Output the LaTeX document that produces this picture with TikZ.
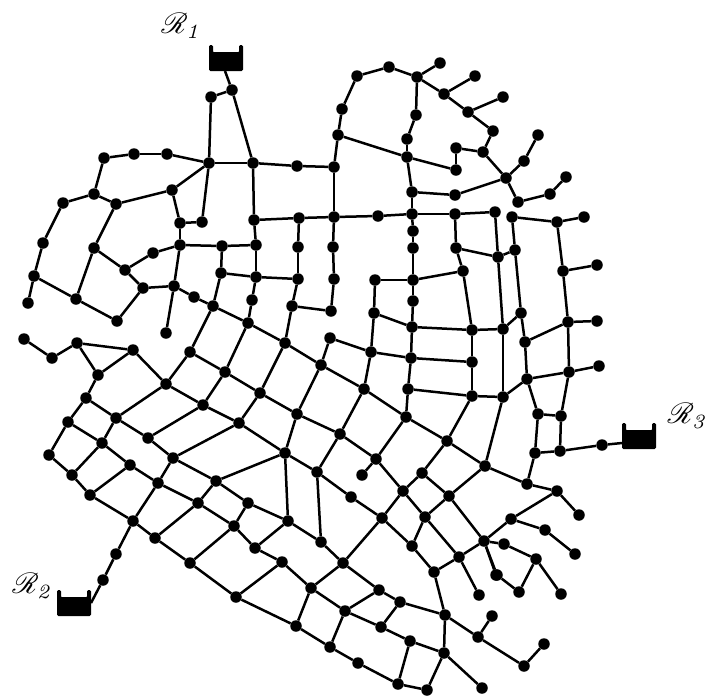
\documentclass[tikz,border=0pt]{standalone}
\usepackage{amsfonts}
\usepackage{mathrsfs}
\tikzset{
  dot/.style={circle,fill=black,inner sep=0pt,minimum size=11.5pt},
  pipe/.style={line width=2.5pt,black},
  tank/.style={fill=black,draw=black,line width=1pt,rounded corners=1pt},
  lab/.style={inner sep=0pt,scale=2.9,transform shape}
}
\begin{document}
\begin{tikzpicture}[x=1pt,y=-1pt]
\useasboundingbox (0,0) rectangle (708,697);
\foreach \n/\x/\y in {
A1/232/90,A2/211/97,A3/209/163,A4/253/163,A5/167/154,A6/134/154,A7/104/158,A8/94/194,A9/63/203,A10/116/204,A11/172/190,A12/180/223,A13/202/222,A14/254/220,
B1/43/243,B2/34/276,B3/28/303,B4/94/248,B5/76/299,B6/117/321,B7/125/270,B8/143/288,B9/153/253,B10/180/245,B11/174/286,B12/166/333,B13/194/297,B14/213/306,B15/222/246,B16/221/273,B17/256/245,B18/256/277,B19/252/300,B20/248/323,
C1/24/339,C2/52/358,C3/77/343,C4/133/350,C5/98/375,C6/86/398,C7/68/422,C8/49/455,C9/102/443,C10/116/418,C11/148/438,C12/166/384,C13/203/405,C14/190/352,C15/225/372,C16/239/423,C17/173/458,C18/260/393,
D3/72/475,D4/90/495,D5/130/465,D6/158/483,D8/133/521,D9/155/538,D10/198/503,D11/216/481,D12/248/503,D13/234/526,D14/255/548,D15/190/563,D16/236/597,D17/116/554,D18/103/580,
E1/285/453,E2/317/472,E3/351/497,E4/382/518,E5/403/491,E6/422/473,E7/449/496,E8/425/517,E9/484/541,E10/459/557,E11/412/546,E12/434/572,E13/479/595,E14/496/575,
E18/288/521,E19/321/542,E21/282/562,E22/343/563,E23/311/588,E25/296/626,E26/330/647,E27/358/663,E28/398/684,E29/427/690,E30/345/611,E31/379/590,E32/400/602,E33/381/627,E34/410/641,E35/444/653,E36/445/615,E37/478/637,E38/492/616,E39/482/688,
F2/298/279,F3/334/279,F5/292/306,F6/331/311,F8/285/343,F9/321/365,F10/330/338,F11/371/352,F12/364/389,F13/406/417,F14/411/358,F15/408/389,F16/412/327,F17/374/313,F18/375/280,F19/413/280,F20/413/301,F21/463/271,F22/472/330,F23/503/329,F24/472/362,F25/472/396,F26/503/397,F27/447/441,F28/485/466,F30/297/414,F31/340/434,F32/376/459,F36/362/475,
G2/297/166,G3/334/167,G4/338/135,G5/342/109,G6/357/76,G7/389/67,G8/417/77,G9/440/63,G10/444/94,G11/475/76,G12/468/112,G13/503/97,G14/493/131,G15/483/152,G16/456/148,G17/456/170,G18/416/115,G19/407/139,G20/407/157,G21/412/192,G22/455/195,G23/506/178,G24/412/214,G25/455/214,G26/495/212,G27/378/216,G28/334/217,G29/299/218,G32/298/247,G33/333/247,G34/413/231,G35/413/248,G36/456/248,G37/498/257,
H2/524/161,H3/538/135,H4/518/202,H5/550/194,H6/566/177,H7/512/217,H8/557/222,H9/584/217,H10/515/250,H12/563/271,H13/597/265,H14/568/322,H15/597/321,H16/521/313,
I1/525/342,I2/527/379,I3/569/372,I4/599/366,I5/538/414,I6/561/416,I7/535/453,I8/560/451,I9/602/445,I10/527/484,I11/557/491,I12/579/515,I19/511/519,I20/545/530,I21/575/554,I22/504/544,I23/536/559,I24/561/594,I25/519/592,I26/497/575,
J1/524/666,J2/544/644}
  \node[dot] (\n) at (\x,\y) {};
\coordinate (T1) at (225,71);
\coordinate (T2) at (91,603);
\coordinate (T3) at (622,443);
\foreach \a/\b in {
T1/A1,A1/A2,A2/A3,A1/A4,A3/A4,A3/A5,A5/A6,A6/A7,A7/A8,A8/A9,A8/A10,A10/A11,A11/A3,A11/A12,A12/A13,A13/A3,A4/A14,
A9/B1,B1/B2,B2/B3,B2/B5,B5/B6,B5/B4,B4/A10,B4/B7,B7/B8,B7/B9,B9/B10,B8/B11,B6/B8,B10/B11,B11/B12,B11/B13,B13/B14,B14/B20,B10/B15,B15/B17,B15/B16,B16/B14,B16/B18,B17/B18,B18/B19,B19/B20,A14/B17,A12/B10,
C1/C2,C2/C3,C3/C4,C3/C5,C4/C5,C4/C12,C5/C6,C6/C7,C6/C10,C7/C8,C7/C9,C10/C9,C10/C12,C10/C11,C11/C13,C11/C17,C12/C14,C12/C13,C13/C16,C14/B14,C14/C15,C15/B20,C15/C13,C15/C18,C16/C17,C16/C18,
C8/D3,D3/C9,D3/D4,D4/D5,D4/D8,C9/D5,D5/D6,D6/C17,D6/D10,D6/D8,C17/D11,D11/D10,D11/D12,D10/D13,D12/D13,D13/D14,D13/D15,D8/D9,D9/D10,D9/D15,D15/D16,D17/D8,D18/D17,D18/T2,D11/E1,C16/E1,
E1/E18,E2/E19,E1/E2,E2/E3,E3/E4,E4/E5,E5/E6,E6/E7,E5/E8,E4/E11,E11/E8,E8/E7,E8/E10,E11/E12,E12/E10,E7/E9,E9/E10,E10/E13,E9/E14,E12/E36,E36/E35,E36/E37,E37/E38,E37/J1,E35/E39,E35/E29,E28/E29,E28/E34,E34/E35,E33/E34,E30/E33,E30/E23,E23/E21,E21/D14,E21/D16,E23/E22,E22/E19,E22/E4,E22/E31,E31/E32,E31/E30,E32/E36,E32/E33,E30/E26,E23/E25,E25/E26,D16/E25,E26/E27,E27/E28,E18/E19,E18/D12,E18/D14,J1/J2,
B20/F8,F8/F9,F9/F12,F12/F13,F13/F27,F27/F28,F8/C18,F9/F30,F12/F31,F13/F32,F27/E6,F28/E7,C18/F30,F30/F31,F31/F32,F32/F36,F32/E5,F30/E1,F31/E2,F9/F10,F10/F11,F11/F12,F11/F14,F14/F15,F15/F13,F15/F25,F14/F24,F14/F16,F16/F22,F22/F23,F16/F17,F17/F18,F17/F11,F18/F19,F19/F21,F19/F20,F20/F16,F21/F22,F22/F24,F24/F25,F25/F26,F25/F27,F26/F23,F26/F28,F5/F8,F5/F6,F6/F3,B18/F2,F2/F5,
A4/G2,G2/G3,G3/G4,G4/G5,G5/G6,G6/G7,G7/G8,G8/G9,G8/G10,G10/G11,G10/G12,G12/G13,G12/G14,G14/G15,G15/G16,G16/G17,G17/G20,G20/G4,G15/G23,G8/G18,G18/G19,G19/G20,G20/G21,G21/G22,G22/G23,G21/G24,G24/G25,G25/G26,G24/G27,G27/G28,G28/G29,G29/A14,G28/G3,G29/G32,G32/F2,G28/G33,G33/F3,G24/G34,G34/G35,G35/F19,G25/G36,G36/G37,G36/F21,G26/G37,G37/F23,
G23/H2,H2/H3,G23/H4,H4/H5,H5/H6,H7/H8,H8/H9,H8/H12,H12/H13,H12/H14,H14/H15,H7/H10,H10/G37,H10/H16,H16/F23,
H14/I3,I1/H14,I1/I2,I2/I3,I3/I4,I2/F26,I2/I5,I5/I6,I6/I3,I5/I7,I6/I8,I7/I8,I8/I9,I9/T3,I7/I10,I10/F28,I10/I11,I11/I12,I11/I19,I19/E9,I19/I20,I20/I21,E9/I22,I22/I23,I23/I24,I23/I25,I25/I26,I26/E9,H16/I1}
  \draw[pipe] (\a) -- (\b);
% tanks
\foreach \px/\py in {209.5/45.5,57.5/590.5,622.5/423.5}{
  \fill[tank] (\px,\py+7) -- (\px,\py) -- (\px+3,\py) -- (\px+3,\py+7) -- (\px+30,\py+7) -- (\px+30,\py) -- (\px+33,\py) -- (\px+33,\py+25) -- (\px,\py+25) -- cycle;
}
\node[lab] (R1) at (182,26) {$\mathscr{R}_{\mathit{1}}$};
\node[lab] (R2) at (33,586) {$\mathscr{R}_{\mathit{2}}$};
\node[lab] (R3) at (688,416) {$\mathscr{R}_{\mathit{3}}$};
\end{tikzpicture}
\end{document}
